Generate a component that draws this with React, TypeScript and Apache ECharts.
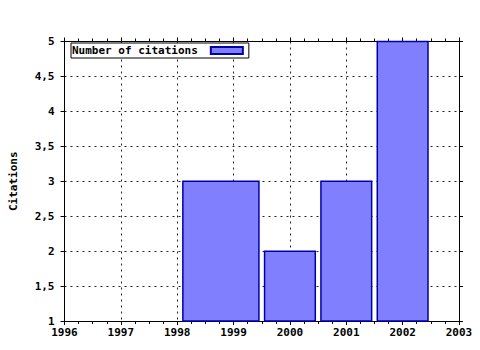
import React, { useEffect, useRef } from "react";
import * as echarts from "echarts";

const barStart = [1998.1, 1999.55, 2000.55, 2001.55];
const barEnd = [1999.45, 2000.45, 2001.45, 2002.45];
const citations = [3, 2, 3, 5];
const xMin = 1996;
const xMax = 2003;
const yMin = 1;
const yMax = 5;
const seriesName = "Number of citations";
const yTitle = "Citations";

const FONT = "'DejaVu Sans Mono', monospace";

export default function App() {
  const ref = useRef<HTMLDivElement>(null);
  useEffect(() => {
    if (!ref.current) return;
    const chart = echarts.init(ref.current, null, { renderer: "svg" });
    const data = barStart.map((s, i) => [s, barEnd[i], citations[i]]);
    const gridLine = { show: true, lineStyle: { color: "#222", type: [2, 4], width: 1 } };
    const axisLine = { show: true, lineStyle: { color: "#000", width: 1 } };
    const labelStyle = { color: "#000", fontFamily: FONT, fontWeight: "bold" as const, fontSize: 11 };
    chart.setOption({
      animation: false,
      backgroundColor: "#fff",
      grid: { left: 64.5, right: 21, top: 41.5, bottom: 29, containLabel: false, outerBoundsMode: "none" },
      legend: {
        show: true,
        left: 71,
        top: 43,
        align: "right",
        icon: "rect",
        itemWidth: 32,
        itemHeight: 7,
        padding: [2, 5, 2, 1],
        borderColor: "#000",
        borderWidth: 1,
        borderRadius: 0,
        backgroundColor: "#fff",
        textStyle: { ...labelStyle, padding: [0, 8, 0, 0] },
        data: [seriesName],
      },
      xAxis: [
        {
          type: "value",
          min: xMin,
          max: xMax,
          interval: 1,
          position: "bottom",
          axisLine,
          axisTick: { show: true, inside: false, length: 4, lineStyle: { color: "#000" } },
          minorTick: { show: true, splitNumber: 4, length: 3, lineStyle: { color: "#000" } },
          splitLine: gridLine,
          axisLabel: { ...labelStyle, margin: 6, formatter: (v: number) => String(v) },
        },
        {
          type: "value",
          min: xMin,
          max: xMax,
          interval: 1,
          position: "top",
          axisLine,
          axisTick: { show: true, inside: false, length: 4, lineStyle: { color: "#000" } },
          minorTick: { show: true, splitNumber: 4, length: 3, lineStyle: { color: "#000" } },
          splitLine: { show: false },
          axisLabel: { show: false },
        },
      ],
      yAxis: [
        {
          type: "value",
          min: yMin,
          max: yMax,
          interval: 0.5,
          position: "left",
          name: yTitle,
          nameLocation: "middle",
          nameGap: 46,
          nameTextStyle: { ...labelStyle },
          axisLine,
          axisTick: { show: true, inside: false, length: 4, lineStyle: { color: "#000" } },
          splitLine: gridLine,
          axisLabel: { ...labelStyle, margin: 10, formatter: (v: number) => String(v).replace(".", ",") },
        },
        {
          type: "value",
          min: yMin,
          max: yMax,
          interval: 0.5,
          position: "right",
          axisLine,
          axisTick: { show: true, inside: false, length: 4, lineStyle: { color: "#000" } },
          splitLine: { show: false },
          axisLabel: { show: false },
        },
      ],
      series: [
        {
          name: seriesName,
          type: "custom",
          xAxisIndex: 0,
          yAxisIndex: 0,
          encode: { x: [0, 1], y: 2 },
          itemStyle: { color: "#8080ff", borderColor: "#0000a8", borderWidth: 1.5 },
          renderItem: (params: any, api: any) => {
            const p1 = api.coord([api.value(0), api.value(2)]);
            const p2 = api.coord([api.value(1), yMin]);
            return {
              type: "rect",
              shape: { x: p1[0], y: p1[1], width: p2[0] - p1[0], height: p2[1] - p1[1] },
              style: api.style(),
            };
          },
          data,
        },
      ],
    });
    return () => chart.dispose();
  }, []);
  return <div ref={ref} style={{ width: 480, height: 350, position: "absolute", left: 0, top: 0 }} />;
}
